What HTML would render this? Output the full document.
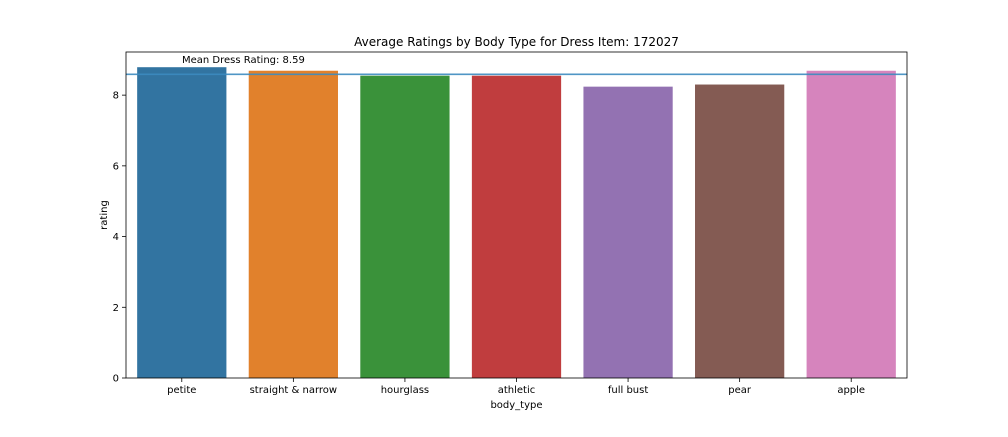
<!DOCTYPE html>
<html><head><meta charset="utf-8"><style>
body{margin:0;background:#fff;font-family:"Liberation Sans","DejaVu Sans",sans-serif;}
svg text{font-family:"DejaVu Sans","Liberation Sans",sans-serif;}
</style></head><body>
<svg id="chart" width="1008" height="432" xmlns="http://www.w3.org/2000/svg">
<rect width="1008" height="432" fill="#fff"/>
<text x="516.5" y="46" font-size="12" text-anchor="middle">Average Ratings by Body Type for Dress Item: 172027</text>
<g id="bars"></g>
<g id="axes"></g>
<text x="516.5" y="408" font-size="10" text-anchor="middle">body_type</text>
<text transform="translate(107,215) rotate(-90)" font-size="10" text-anchor="middle">rating</text>
</svg>
<script>
const categories=["petite","straight & narrow","hourglass","athletic","full bust","pear","apple"];
const ratings=[8.79,8.69,8.55,8.55,8.24,8.30,8.69];
const colors=["#3274a1","#e1812c","#3a923a","#c03d3e","#9372b2","#845b53","#d684bd"];
const yTicks=[0,2,4,6,8];
const meanRating=8.59;
const L=126,R=907,T=52,B=378,yMax=9.22;
const ns="http://www.w3.org/2000/svg";
const y=v=>B-(v/yMax)*(B-T);
const band=(R-L)/categories.length;
const x=i=>L+band*i;
function mk(tag,attrs,parent){const e=document.createElementNS(ns,tag);for(const k in attrs)e.setAttribute(k,attrs[k]);parent.appendChild(e);return e;}
const gb=document.getElementById('bars'),ga=document.getElementById('axes');
categories.forEach((c,i)=>{
 const r=mk('rect',{x:x(i)+band*0.1,y:y(ratings[i]),width:band*0.8,height:B-y(ratings[i]),fill:colors[i]},gb);
 
 
 mk('line',{x1:x(i)+band/2,x2:x(i)+band/2,y1:B,y2:B+4,stroke:'#000','stroke-width':0.8},ga);
 const t=mk('text',{x:x(i)+band/2,y:B+15,'font-size':10,'text-anchor':'middle'},ga);t.textContent=c;
 
 
});
yTicks.forEach(v=>{
 mk('line',{x1:L-4,x2:L,y1:y(v),y2:y(v),stroke:'#000','stroke-width':0.8},ga);
 const t=mk('text',{x:L-7,y:y(v)+3.5,'font-size':10,'text-anchor':'end'},ga);t.textContent=v;
 
 
});
const ml=mk('line',{x1:L,x2:R,y1:y(meanRating),y2:y(meanRating),stroke:'#3d8bbf','stroke-width':1.6,opacity:0.9},ga);


const mt=mk('text',{x:182,y:63,'font-size':10},ga);mt.textContent='Mean Dress Rating: '+meanRating.toFixed(2);


const fr=mk('rect',{x:L,y:T,width:R-L,height:B-T,fill:'none',stroke:'#000','stroke-width':0.8},ga);


</script>
</body></html>
